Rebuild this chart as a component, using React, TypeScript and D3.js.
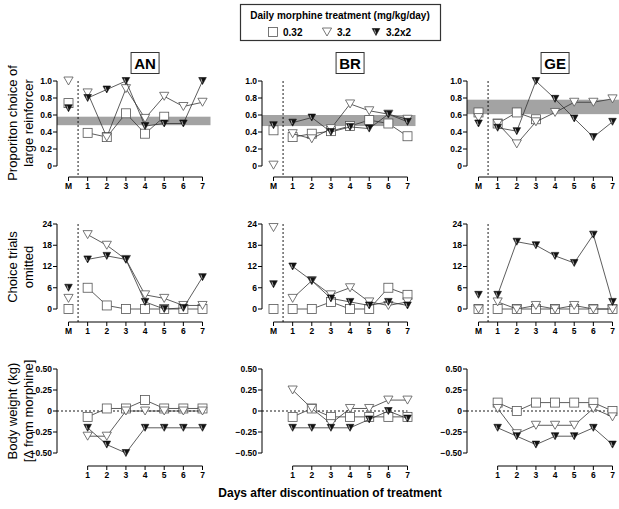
import React from "react";
import * as d3 from "d3";

const dayLabels = ["M", "1", "2", "3", "4", "5", "6", "7"];
const bwDayLabels = ["1", "2", "3", "4", "5", "6", "7"];
const subjects = ["AN", "BR", "GE"];
const doseLabels = ["0.32", "3.2", "3.2x2"];

// Proportion choice of large reinforcer (index 0 = M, 1..7 = days)
const anPropSq = [0.74, 0.39, 0.34, 0.62, 0.38, 0.58, null, null];
const anPropTri = [1.0, 0.86, 0.34, 0.91, 0.56, 0.82, 0.7, 0.75];
const anPropFill = [0.68, 0.8, 0.9, 1.0, 0.47, 0.5, 0.5, 1.0];
const brPropSq = [0.42, 0.34, 0.38, 0.41, 0.47, 0.54, 0.5, 0.35];
const brPropTri = [0.01, 0.38, 0.32, 0.44, 0.73, 0.65, 0.61, 0.55];
const brPropFill = [0.48, 0.51, 0.57, 0.4, 0.46, 0.44, 0.61, 0.52];
const gePropSq = [0.63, 0.5, 0.63, 0.55, null, null, null, null];
const gePropTri = [0.57, 0.5, 0.26, 0.52, 0.63, 0.75, 0.75, 0.79];
const gePropFill = [0.5, 0.45, 0.41, 1.0, 0.79, 0.56, 0.34, 0.52];
const bands = [
  [0.48, 0.58],
  [0.47, 0.6],
  [0.61, 0.78],
];

// Choice trials omitted
const anOmSq = [0, 6, 1, 0, 0, 0, 0, 0];
const anOmTri = [3, 21, 18, 14, 4, 3, 1, 1];
const anOmFill = [6, 14, 15, 14, 2, 0, 0.3, 9];
const brOmSq = [0, 0, 0, 2, 0, 0, 6, 4];
const brOmTri = [23, 3, 8, 4, 6, 2, 1, 2];
const brOmFill = [7, 12, 8, 3, 2, 1, 2, 1];
const geOmSq = [0, 0, 0, 0, 0, 0, 0, 0];
const geOmTri = [0, 2, 0, 1, 0, 1, 0, 0];
const geOmFill = [4, 4, 19, 18, 15, 13, 21, 2];

// Body weight change (days 1..7)
const anBwSq = [-0.07, 0.03, 0.03, 0.13, 0.03, 0.03, 0.03];
const anBwTri = [-0.3, -0.3, 0, 0, 0, 0, 0];
const anBwFill = [-0.2, -0.4, -0.5, -0.2, -0.2, -0.2, -0.2];
const brBwSq = [-0.07, 0.03, -0.07, -0.07, -0.07, -0.07, -0.07];
const brBwTri = [0.25, 0.03, -0.15, 0.03, 0.03, 0.13, 0.13];
const brBwFill = [-0.2, -0.2, -0.2, -0.2, -0.1, 0, -0.09];
const geBwSq = [0.1, 0, 0.1, 0.1, 0.1, 0.1, 0];
const geBwTri = [0.03, -0.27, -0.17, -0.17, -0.17, 0.03, -0.07];
const geBwFill = [-0.2, -0.3, -0.4, -0.3, -0.3, -0.2, -0.4];

const propTicks = [0, 0.2, 0.4, 0.6, 0.8, 1.0];
const omTicks = [0, 6, 12, 18, 24];
const bwTicks = [-0.5, -0.25, 0, 0.25, 0.5];

const propData = [
  [anPropSq, anPropTri, anPropFill],
  [brPropSq, brPropTri, brPropFill],
  [gePropSq, gePropTri, gePropFill],
];
const omData = [
  [anOmSq, anOmTri, anOmFill],
  [brOmSq, brOmTri, brOmFill],
  [geOmSq, geOmTri, geOmFill],
];
const bwData = [
  [anBwSq, anBwTri, anBwFill],
  [brBwSq, brBwTri, brBwFill],
  [geBwSq, geBwTri, geBwFill],
];

const FONT = "'Liberation Sans', Arial, Helvetica, sans-serif";
const LINE = "#333";

const axisXs = [57, 262, 467];

function Marker({ kind, x, y }: { kind: number; x: number; y: number }) {
  if (kind === 0) {
    return <rect x={x - 4.5} y={y - 4.5} width={9} height={9} fill="#fff" stroke="#555" strokeWidth={0.8} />;
  }
  if (kind === 1) {
    const w = 4.6, h = 8;
    return (
      <path
        d={`M${x - w},${y - h / 2}L${x + w},${y - h / 2}L${x},${y + h / 2}Z`}
        fill="#fff"
        stroke="#555"
        strokeWidth={0.8}
      />
    );
  }
  const w = 3.8, h = 7;
  return (
    <g>
      <path d={`M${x - w},${y - h / 2}L${x + w},${y - h / 2}L${x},${y + h / 2}Z`} fill="#111" stroke="#111" strokeWidth={0.6} />
      <path d={`M${x - 1.6},${y - h / 2 + 1}L${x - 0.3},${y + 1.5}`} stroke="#bbb" strokeWidth={0.9} />
    </g>
  );
}

function Series({
  data,
  xs,
  ys,
  kind,
  offset,
  includeM,
}: {
  data: (number | null)[];
  xs: d3.ScaleLinear<number, number>;
  ys: d3.ScaleLinear<number, number>;
  kind: number;
  offset: number;
  includeM: boolean;
}) {
  const pts: [number, number][] = [];
  let mPt: [number, number] | null = null;
  data.forEach((v, i) => {
    if (v === null || v === undefined) return;
    const idx = i + offset;
    const p: [number, number] = [xs(idx), ys(v)];
    if (idx === 0) mPt = p;
    else pts.push(p);
  });
  const line = d3.line();
  return (
    <g>
      {pts.length > 1 && <path d={line(pts) || ""} fill="none" stroke={LINE} strokeWidth={0.8} />}
      {includeM && mPt && <Marker kind={kind} x={(mPt as any)[0]} y={(mPt as any)[1]} />}
      {pts.map((p, i) => (
        <Marker key={i} kind={kind} x={p[0]} y={p[1]} />
      ))}
    </g>
  );
}

function YAxis({
  x,
  ys,
  ticks,
  fmt,
}: {
  x: number;
  ys: d3.ScaleLinear<number, number>;
  ticks: number[];
  fmt: (v: number) => string;
}) {
  const [d0, d1] = ys.domain();
  return (
    <g>
      <line x1={x} x2={x} y1={ys(d0)} y2={ys(d1)} stroke="#000" strokeWidth={1} />
      {ticks.map((t) => (
        <g key={t}>
          <line x1={x - 4} x2={x} y1={ys(t)} y2={ys(t)} stroke="#000" strokeWidth={1} />
          <text x={x - 5} y={ys(t)} dy="0.35em" textAnchor="end" fontSize={8.5} fontWeight="bold" fontFamily={FONT}>
            {fmt(t)}
          </text>
        </g>
      ))}
    </g>
  );
}

function XAxis({
  y,
  xs,
  labels,
  start,
}: {
  y: number;
  xs: d3.ScaleLinear<number, number>;
  labels: string[];
  start: number;
}) {
  const idx = labels.map((_, i) => i + start);
  return (
    <g>
      <line x1={xs(idx[0])} x2={xs(idx[idx.length - 1])} y1={y} y2={y} stroke="#000" strokeWidth={1} />
      {idx.map((k, i) => (
        <g key={k}>
          <line x1={xs(k)} x2={xs(k)} y1={y} y2={y + 4} stroke="#000" strokeWidth={1} />
          <text x={xs(k)} y={y + 12} textAnchor="middle" fontSize={8.5} fontWeight="bold" fontFamily={FONT}>
            {labels[i]}
          </text>
        </g>
      ))}
    </g>
  );
}

export default function App() {
  const propY = d3.scaleLinear().domain([0, 1]).range([166, 81]);
  const omY = d3.scaleLinear().domain([0, 24]).range([309, 224]);
  const bwY = d3.scaleLinear().domain([-0.5, 0.5]).range([453, 369]);

  return (
    <svg width={619} height={509} style={{ position: "absolute", left: 0, top: 0, background: "#fff" }}>
      <rect width={619} height={509} fill="#fff" />
      {/* Legend */}
      <rect x={240.5} y={4.5} width={200} height={36} fill="#fff" stroke="#333" strokeWidth={1.2} />
      <text x={340} y={19} textAnchor="middle" fontSize={10} fontWeight="bold" fontFamily={FONT}>
        Daily morphine treatment (mg/kg/day)
      </text>
      {doseLabels.map((lab, i) => {
        const mx = [273, 327, 376][i];
        return (
          <g key={lab}>
            <Marker kind={i} x={mx} y={32} />
            <text x={mx + 10} y={35.5} fontSize={10} fontWeight="bold" fontFamily={FONT}>
              {lab}
            </text>
          </g>
        );
      })}

      {subjects.map((s, c) => {
        const ax = axisXs[c];
        const xs = d3.scaleLinear().domain([0, 7]).range([ax + 11.5, ax + 145.5]);
        const midX = (xs(1) + xs(7)) / 2;
        const [b0, b1] = bands[c];
        return (
          <g key={s}>
            {/* title box */}
            <rect x={midX - 14} y={52.5} width={28} height={21} fill="#fff" stroke="#333" strokeWidth={1} />
            <text x={midX} y={68.5} textAnchor="middle" fontSize={15} fontWeight="bold" fontFamily={FONT}>
              {s}
            </text>

            {/* Row 1: proportion */}
            <rect x={ax} y={propY(b1)} width={xs(7) + 8 - ax} height={propY(b0) - propY(b1)} fill="#a3a3a3" />
            <line x1={xs(0.5)} x2={xs(0.5)} y1={propY(1)} y2={177} stroke="#000" strokeWidth={0.9} strokeDasharray="2,2" />
            <YAxis x={ax} ys={propY} ticks={propTicks} fmt={(v) => (v === 0 ? "0" : d3.format(".1f")(v))} />
            <XAxis y={177} xs={xs} labels={dayLabels} start={0} />
            {propData[c].map((d, k) => (
              <Series key={k} data={d} xs={xs} ys={propY} kind={k} offset={0} includeM={true} />
            ))}

            {/* Row 2: omitted */}
            <line x1={xs(0.5)} x2={xs(0.5)} y1={omY(24)} y2={322} stroke="#000" strokeWidth={0.9} strokeDasharray="2,2" />
            <YAxis x={ax} ys={omY} ticks={omTicks} fmt={(v) => String(v)} />
            <XAxis y={322} xs={xs} labels={dayLabels} start={0} />
            {omData[c].map((d, k) => (
              <Series key={k} data={d} xs={xs} ys={omY} kind={k} offset={0} includeM={true} />
            ))}

            {/* Row 3: body weight */}
            <line x1={ax} x2={xs(7)} y1={bwY(0)} y2={bwY(0)} stroke="#000" strokeWidth={0.9} strokeDasharray="2,2" />
            <YAxis x={ax} ys={bwY} ticks={bwTicks} fmt={(v) => (v === 0 ? "0" : d3.format(".2f")(v))} />
            <XAxis y={466} xs={xs} labels={bwDayLabels} start={1} />
            {bwData[c].map((d, k) => (
              <Series key={k} data={d} xs={xs} ys={bwY} kind={k} offset={1} includeM={false} />
            ))}
          </g>
        );
      })}

      {/* Y-axis titles */}
      <g fontFamily={FONT} fontSize={13} textAnchor="middle">
        <text transform="translate(17,123) rotate(-90)">Proporiton choice of</text>
        <text transform="translate(33,123) rotate(-90)">large reinforcer</text>
        <text transform="translate(17,267) rotate(-90)">Choice trials</text>
        <text transform="translate(33,267) rotate(-90)">omitted</text>
        <text transform="translate(17,411) rotate(-90)">Body weight (kg)</text>
        <text transform="translate(33,411) rotate(-90)">[Δ from morphine]</text>
      </g>

      <text x={330} y={497} textAnchor="middle" fontSize={12} fontWeight="bold" fontFamily={FONT}>
        Days after discontinuation of treatment
      </text>
    </svg>
  );
}
